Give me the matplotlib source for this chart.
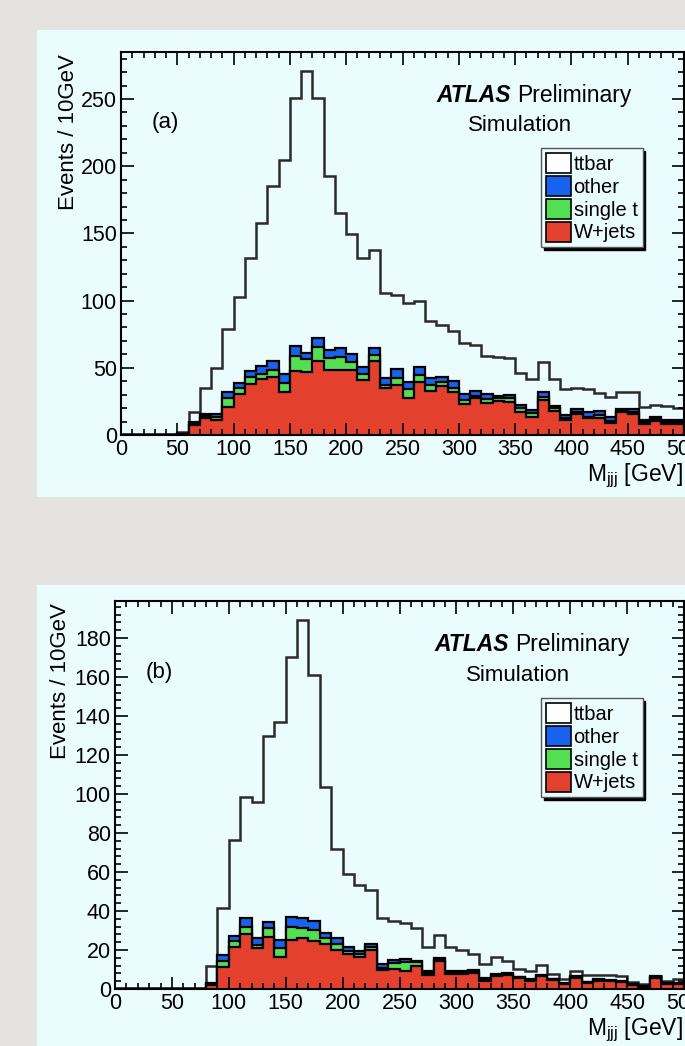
"""ATLAS M_jjj stacked histograms, panels (a) and (b)."""

import numpy as np
import matplotlib
matplotlib.use("Agg")
import matplotlib.pyplot as plt
from matplotlib.patches import Patch, Rectangle
from matplotlib.ticker import MultipleLocator

plt.rcParams["font.family"] = ["Liberation Sans", "DejaVu Sans"]
plt.rcParams["mathtext.default"] = "regular"

EDGES = np.arange(0, 510, 10)

# panel (a): events / 10 GeV per process
WJETS_A = [0, 0, 0, 0, 0, 0.6, 7.5, 12.4, 11.2, 21.1,
           30.3, 37.8, 41.5, 43.0, 31.8, 47.7, 47.2, 55.1, 48.4, 48.4,
           48.4, 41.0, 55.1, 34.8, 37.3, 27.3, 39.7, 32.8, 36.8, 31.8,
           22.9, 27.3, 23.6, 25.3, 24.8, 16.9, 13.7, 26.1, 17.9, 11.2,
           15.4, 12.4, 12.9, 8.7, 16.9, 15.4, 7.9, 10.4, 7.9, 8.4]
SINGLE_T_A = [0, 0, 0, 0, 0, 0.3, 1.5, 1.5, 2.0, 6.2,
              4.5, 5.7, 3.7, 5.0, 6.7, 11.4, 9.4, 10.7, 8.7, 9.9,
              5.7, 4.2, 4.5, 2.2, 5.4, 6.7, 5.0, 4.5, 2.4, 3.2,
              3.2, 2.0, 3.2, 2.5, 2.5, 3.0, 2.4, 2.5, 2.0, 1.2,
              1.5, 1.3, 2.0, 1.7, 1.0, 2.0, 1.5, 1.5, 1.5, 1.0]
OTHER_A = [0, 0, 0, 0, 0, 0.2, 0.5, 1.7, 2.4, 4.5,
           4.2, 4.2, 6.2, 7.0, 6.7, 7.2, 4.7, 6.7, 6.2, 6.7,
           6.0, 5.7, 5.4, 5.5, 6.2, 5.7, 5.7, 5.2, 4.0, 5.0,
           4.2, 3.5, 3.5, 1.3, 2.5, 2.5, 2.5, 3.2, 2.0, 2.5,
           2.5, 3.2, 3.0, 3.3, 1.5, 2.0, 1.8, 1.8, 1.8, 1.8]
TTBAR_A = [0.4, 0.4, 0.4, 0.4, 0.6, 1.4, 7.9, 19.2, 34.1, 46.9,
           64.0, 84.3, 106.2, 130.6, 159.5, 184.7, 209.7, 178.5, 129.7, 100.0,
           89.5, 81.1, 73.0, 63.1, 55.1, 58.8, 49.0, 42.0, 38.3, 37.5,
           38.2, 34.2, 28.7, 28.9, 27.2, 24.1, 22.9, 22.2, 19.6, 19.4,
           15.6, 17.4, 13.6, 14.9, 12.4, 12.4, 9.8, 8.7, 10.7, 8.7]

# panel (b)
WJETS_B = [0, 0, 0, 0, 0, 0, 0, 0, 2.0, 11.4,
           21.7, 28.0, 20.8, 26.8, 16.6, 25.1, 26.3, 24.6, 23.0, 20.0,
           18.0, 16.5, 20.0, 9.7, 10.2, 9.2, 12.0, 7.2, 14.3, 7.5,
           7.5, 8.0, 4.1, 6.5, 7.0, 5.5, 4.0, 6.5, 4.5, 2.5,
           5.5, 3.0, 4.2, 4.0, 3.4, 2.2, 1.2, 5.8, 2.5, 2.6]
SINGLE_T_B = [0, 0, 0, 0, 0, 0, 0, 0, 0.5, 2.9,
              2.9, 3.9, 1.7, 4.3, 4.6, 6.8, 5.1, 5.6, 3.0, 3.0,
              1.5, 1.2, 1.5, 1.2, 2.9, 4.8, 2.0, 1.0, 0.8, 0.8,
              0.8, 0.8, 0.8, 0.5, 0.5, 0.4, 0.5, 0.4, 0.4, 0.3,
              0.5, 0.4, 0.4, 0.3, 0.3, 0.25, 0.25, 0.35, 0.35, 0.35]
OTHER_B = [0, 0, 0, 0, 0, 0, 0, 0, 0.4, 3.1,
           2.7, 4.3, 3.5, 3.4, 3.9, 5.1, 4.8, 4.6, 2.5, 3.0,
           2.2, 1.6, 1.7, 1.7, 1.8, 1.4, 0.5, 1.0, 0.9, 0.9,
           0.9, 0.9, 0.9, 0.6, 0.5, 0.4, 0.5, 0.4, 0.4, 0.4,
           0.5, 0.4, 0.4, 0.3, 0.3, 0.25, 0.25, 0.35, 0.35, 0.35]
TTBAR_B = [0.3, 0.3, 0.3, 0.3, 0.3, 0.3, 0.3, 0.3, 8.9, 23.9,
           49.0, 62.3, 70.0, 95.1, 111.8, 133.2, 152.8, 126.0, 75.1, 46.0,
           37.5, 34.0, 27.8, 23.6, 19.9, 18.2, 16.9, 12.5, 11.7, 12.5,
           10.8, 8.1, 7.1, 8.9, 6.5, 4.0, 4.2, 5.0, 2.5, 1.8,
           2.5, 3.5, 2.4, 2.6, 2.7, 0.9, 0.8, 0.3, 1.1, 1.7]

LABELS = ["ttbar", "other", "single t", "W+jets"]

PAGE_BG = "#e5e3e1"
PANEL_BG = "#ebfcff"
RED = "#e3402e"
GREEN = "#52e052"
BLUE = "#1762ee"

W, H = 685, 1046


def fx(px):
    return px / W


def fy(py):
    return 1 - py / H


def draw_panel(fig, box, axrect, wjets, single_t, other, ttbar, ymax, ymaj, ymin, tag, leg_top, ylab_x):
    # slide panel background (behind the axes)
    fig.patches.append(Rectangle((fx(box[0]), fy(box[3])), fx(box[2] - box[0]), (box[3] - box[1]) / H,
                                 transform=fig.transFigure, facecolor=PANEL_BG, edgecolor="none", zorder=-5))

    left, top, right, bottom = axrect
    ax = fig.add_axes([fx(left), fy(bottom), fx(right - left), (bottom - top) / H])
    ax.set_facecolor(PANEL_BG)

    c1 = np.array(wjets)
    c2 = c1 + np.array(single_t)
    c3 = c2 + np.array(other)
    c4 = c3 + np.array(ttbar)

    ax.stairs(c4, EDGES, fill=True, facecolor=PANEL_BG, edgecolor="#2a2a2a", linewidth=1.8)
    ax.stairs(c3, EDGES, fill=True, facecolor=BLUE, edgecolor="black", linewidth=1.6)
    ax.stairs(c2, EDGES, fill=True, facecolor=GREEN, edgecolor="black", linewidth=1.6)
    ax.stairs(c1, EDGES, fill=True, facecolor=RED, edgecolor="black", linewidth=1.6)

    ax.set_xlim(0, 500)
    ax.set_ylim(0, ymax)
    ax.xaxis.set_major_locator(MultipleLocator(50))
    ax.xaxis.set_minor_locator(MultipleLocator(10))
    ax.yaxis.set_major_locator(MultipleLocator(ymaj))
    ax.yaxis.set_minor_locator(MultipleLocator(ymin))
    ax.tick_params(which="both", direction="in", top=True, right=True, width=1.2, labelsize=15.5, pad=3)
    ax.tick_params(which="major", length=9)
    ax.tick_params(which="minor", length=4.5)
    for sp in ax.spines.values():
        sp.set_linewidth(1.5)

    ax.text(0.078, 0.815, tag, transform=ax.transAxes, fontsize=16, ha="center", va="center")
    ax.text(0.561, 0.887, "ATLAS", transform=ax.transAxes, fontsize=16.5,
            fontweight="bold", fontstyle="italic", ha="left", va="center")
    ax.text(0.704, 0.887, "Preliminary", transform=ax.transAxes, fontsize=16.5, ha="left", va="center")
    ax.text(0.708, 0.808, "Simulation", transform=ax.transAxes, fontsize=16, ha="center", va="center")

    handles = [Patch(facecolor=c, edgecolor="black", linewidth=1.2)
               for c in ["white", BLUE, GREEN, RED]]
    leg = ax.legend(handles=handles, labels=LABELS, loc="upper left",
                    bbox_to_anchor=(fx(541), fy(leg_top)), bbox_transform=fig.transFigure,
                    fontsize=14.5, frameon=True, fancybox=False, edgecolor="#555555",
                    facecolor=PANEL_BG, framealpha=1, shadow={"color": "black", "alpha": 1},
                    borderpad=0.25, labelspacing=0.1, handlelength=1.25, handleheight=1.15,
                    handletextpad=0.12, borderaxespad=0)
    leg.get_frame().set_linewidth(1.0)

    fig.text(fx(ylab_x), fy(top + 2), "Events / 10GeV", rotation=90, fontsize=16, ha="center", va="top")
    fig.text(fx(683), fy(bottom + 41), "M$_{jjj}$ [GeV]", fontsize=16.5, ha="right", va="center")
    return ax


def build_figure():
    fig = plt.figure(figsize=(W / 100, H / 100), dpi=100)
    fig.patch.set_facecolor(PAGE_BG)

    draw_panel(fig, (37, 30, 685, 497), (121, 52, 684, 435),
               WJETS_A, SINGLE_T_A, OTHER_A, TTBAR_A, 285, 50, 10, "(a)", 148, 68)
    draw_panel(fig, (37, 585, 685, 1046), (115, 601, 684, 989),
               WJETS_B, SINGLE_T_B, OTHER_B, TTBAR_B, 199, 20, 4, "(b)", 698, 61)

    fig.savefig("out.png", dpi=100, facecolor=fig.get_facecolor())


if __name__ == "__main__":
    build_figure()
